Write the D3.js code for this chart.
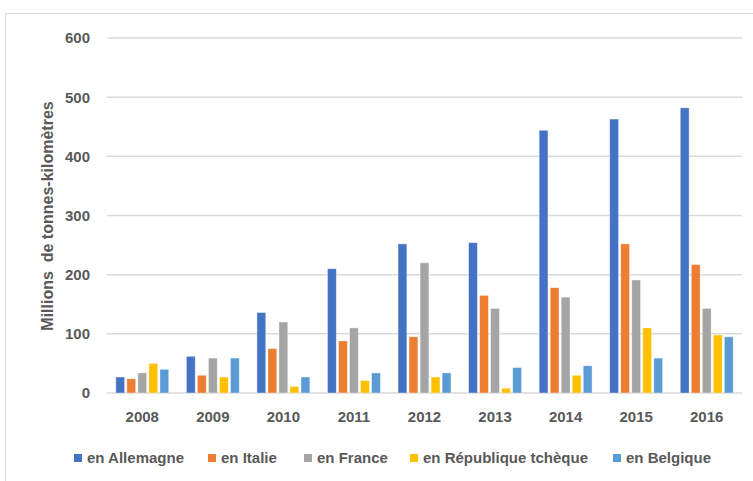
<!DOCTYPE html>
<html><head><meta charset="utf-8">
<script src="https://cdn.jsdelivr.net/npm/d3@7"></script>
<style>
html,body{margin:0;padding:0;background:#fff;}
svg text{font-family:"Liberation Sans",Arial,sans-serif;font-weight:bold;fill:#595959;}
</style></head>
<body>
<svg id="chart" width="753" height="481"></svg>
<script>
const years = ["2008","2009","2010","2011","2012","2013","2014","2015","2016"];
const seriesNames = ["en Allemagne","en Italie","en France","en République tchèque","en Belgique"];
const allemagne = [27, 62, 136, 210, 252, 254, 444, 463, 482];
const italie    = [24, 30, 75, 88, 95, 165, 178, 252, 217];
const france    = [34, 59, 120, 110, 220, 143, 162, 191, 143];
const tcheque   = [50, 27, 11, 21, 27, 8, 30, 110, 98];
const belgique  = [40, 59, 27, 34, 34, 43, 46, 59, 95];
const yTicks = [0, 100, 200, 300, 400, 500, 600];
const colors = ["#4472C4","#ED7D31","#A5A5A5","#FFC000","#5B9BD5"];
const yTitle = "Millions  de tonnes-kilomètres";

const seriesValues = [allemagne, italie, france, tcheque, belgique];

const svg = d3.select("#chart");
const W = 753, H = 481;
const plot = {left: 107, right: 742, top: 38, bottom: 393};

// frame
svg.append("path").attr("d", `M5.5,${H} V13.5 H${W}`)
  .attr("fill","none").attr("stroke","#D9D9D9").attr("stroke-width",1);

const x = d3.scaleBand().domain(years).range([plot.left, plot.right])
  .paddingInner(0.25).paddingOuter(0.125);
const xi = d3.scaleBand().domain(d3.range(seriesNames.length)).range([0, x.bandwidth()])
  .paddingInner(0.2);
const y = d3.scaleLinear().domain([0, 600]).range([plot.bottom, plot.top]);

// gridlines
svg.append("g").selectAll("line").data(yTicks).join("line")
  .attr("x1", plot.left).attr("x2", plot.right)
  .attr("y1", d => y(d)).attr("y2", d => y(d))
  .attr("stroke", "#D9D9D9").attr("stroke-width", 1.5);

// y tick labels
svg.append("g").selectAll("text").data(yTicks).join("text")
  .attr("x", 90).attr("y", d => y(d)).attr("dy","0.36em")
  .attr("text-anchor","end").attr("font-size", 15).text(d => d);

// bars
const groups = svg.append("g").selectAll("g").data(years).join("g")
  .attr("transform", d => `translate(${x(d)},0)`);
groups.selectAll("rect").data((yr, i) => seriesValues.map((s, k) => ({k, v: s[i]}))).join("rect")
  .attr("x", d => xi(d.k)).attr("width", xi.bandwidth())
  .attr("y", d => y(d.v)).attr("height", d => y(0) - y(d.v))
  .attr("fill", d => colors[d.k])
  .attr("stroke", "#ffffff").attr("stroke-opacity", 0.5).attr("stroke-width", 0.75);

// x labels
svg.append("g").selectAll("text").data(years).join("text")
  .attr("x", d => x(d) + x.bandwidth()/2).attr("y", 417).attr("dy","0.36em")
  .attr("text-anchor","middle").attr("font-size", 15).text(d => d);

// y title
svg.append("text").attr("transform", "translate(47,216) rotate(-90)")
  .attr("text-anchor","middle").attr("dy","0.36em").attr("font-size", 16)
  .attr("xml:space","preserve").style("white-space","pre").text(yTitle);

// legend
const legendX = [74, 208, 304, 410, 613];
const lg = svg.append("g").selectAll("g").data(seriesNames).join("g")
  .attr("transform", (d, i) => `translate(${legendX[i]},458)`);
lg.append("rect").attr("x", 0).attr("y", -4).attr("width", 8).attr("height", 8)
  .attr("fill", (d, i) => colors[i]);
lg.append("text").attr("x", 13).attr("y", 0).attr("dy","0.36em")
  .attr("font-size", 15).text(d => d);
</script>
</body></html>
